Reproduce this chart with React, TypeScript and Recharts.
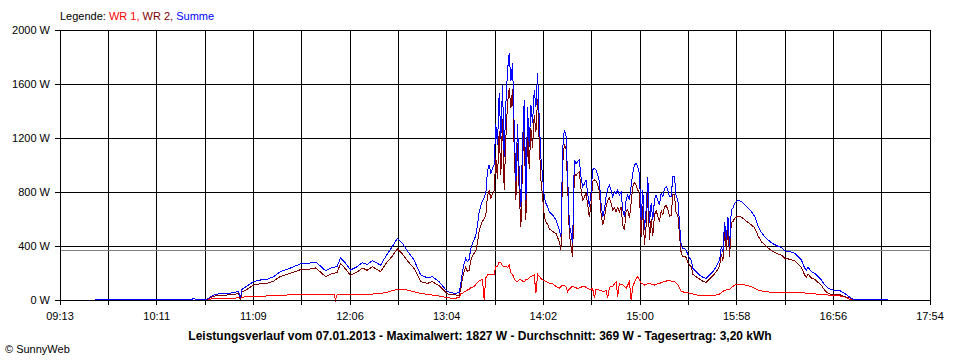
import { CartesianGrid, Line, LineChart, ReferenceLine, XAxis, YAxis } from "recharts";

// Leistungsverlauf 07.01.2013, Werte in W
const times = [
	"09:34", "09:53", "10:13", "10:32", "10:33", "10:34", "10:41", "10:45", "10:47", "10:53",
	"10:57", "10:59", "11:00", "11:01", "11:02", "11:05", "11:09", "11:13", "11:17", "11:21",
	"11:25", "11:29", "11:33", "11:37", "11:42", "11:46", "11:49", "11:52", "11:56", "11:57",
	"11:58", "11:59", "12:01", "12:04", "12:07", "12:11", "12:14", "12:17", "12:20", "12:25",
	"12:28", "12:32", "12:35", "12:38", "12:41", "12:45", "12:49", "12:53", "12:56", "13:00",
	"13:05", "13:09", "13:12", "13:13", "13:14", "13:15", "13:16", "13:17", "13:18", "13:19",
	"13:20", "13:21", "13:22", "13:23", "13:24", "13:25", "13:26", "13:27", "13:28", "13:29",
	"13:30", "13:31", "13:32", "13:33", "13:34", "13:35", "13:36", "13:37", "13:38", "13:39",
	"13:40", "13:41", "13:42", "13:43", "13:44", "13:45", "13:46", "13:47", "13:48", "13:49",
	"13:50", "13:51", "13:52", "13:53", "13:54", "13:55", "13:56", "13:57", "13:58", "13:59",
	"14:00", "14:01", "14:02", "14:03", "14:04", "14:05", "14:06", "14:07", "14:08", "14:09",
	"14:10", "14:11", "14:12", "14:13", "14:14", "14:15", "14:16", "14:17", "14:18", "14:19",
	"14:20", "14:21", "14:22", "14:23", "14:24", "14:25", "14:26", "14:27", "14:28", "14:29",
	"14:30", "14:31", "14:32", "14:33", "14:34", "14:35", "14:36", "14:37", "14:38", "14:39",
	"14:40", "14:41", "14:42", "14:43", "14:44", "14:45", "14:46", "14:47", "14:48", "14:49",
	"14:50", "14:51", "14:52", "14:53", "14:54", "14:55", "14:56", "14:57", "14:58", "14:59",
	"15:00", "15:01", "15:02", "15:03", "15:04", "15:05", "15:06", "15:07", "15:08", "15:09",
	"15:10", "15:11", "15:12", "15:13", "15:14", "15:15", "15:16", "15:17", "15:18", "15:19",
	"15:20", "15:21", "15:22", "15:23", "15:24", "15:25", "15:26", "15:27", "15:28", "15:29",
	"15:30", "15:31", "15:32", "15:34", "15:36", "15:38", "15:40", "15:42", "15:44", "15:46",
	"15:48", "15:49", "15:50", "15:51", "15:52", "15:53", "15:54", "15:55", "15:56", "15:57",
	"15:59", "16:01", "16:03", "16:05", "16:07", "16:09", "16:11", "16:13", "16:15", "16:17",
	"16:19", "16:21", "16:23", "16:25", "16:27", "16:30", "16:33", "16:35", "16:37", "16:39",
	"16:40", "16:41", "16:43", "16:45", "16:47", "16:49", "16:51", "16:53", "16:56", "17:00",
	"17:03", "17:06", "17:08", "17:29",
];

const wr1 = [
	0, 0, 0, 0, 0, 0, 2, 10, 12, 12,
	14, 15, 15, 10, 20, 25, 25, 27, 30, 32,
	35, 37, 40, 42, 44, 44, 44, 44, 44, 44,
	0, 44, 42, 42, 40, 40, 40, 42, 44, 49,
	54, 69, 79, 79, 74, 62, 49, 42, 37, 30,
	17, 10, 20, 45, 50, 60, 65, 74, 80, 90,
	95, 99, 115, 131, 140, 148, 150, 0, 165, 185,
	190, 185, 188, 190, 250, 250, 280, 275, 255, 245,
	250, 240, 259, 200, 190, 160, 140, 136, 150, 150,
	140, 136, 150, 153, 165, 173, 180, 185, 49, 190,
	175, 160, 150, 145, 136, 130, 125, 123, 123, 110,
	100, 95, 86, 100, 111, 111, 95, 62, 80, 95,
	99, 95, 90, 86, 90, 95, 99, 99, 95, 85,
	79, 80, 85, 12, 80, 76, 74, 70, 62, 62,
	75, 12, 95, 99, 99, 120, 136, 25, 123, 115,
	111, 100, 86, 110, 136, 0, 99, 130, 160, 173,
	150, 123, 120, 111, 115, 120, 123, 118, 115, 111,
	115, 120, 123, 128, 132, 136, 140, 143, 143, 140,
	136, 136, 125, 111, 90, 62, 60, 58, 57, 55,
	50, 48, 44, 38, 30, 30, 30, 30, 30, 38,
	44, 55, 65, 70, 74, 76, 79, 90, 100, 110,
	119, 115, 111, 105, 99, 85, 74, 68, 62, 60,
	58, 57, 57, 57, 56, 56, 55, 54, 54, 52,
	50, 50, 47, 45, 43, 41, 39, 37, 37, 30,
	25, 5, 0, 0,
];

const wr2 = [
	5, 5, 5, 5, 12, 5, 5, 27, 32, 37,
	40, 47, 47, 2, 59, 79, 111, 121, 123, 141,
	175, 190, 207, 225, 228, 237, 208, 173, 198, 199,
	200, 205, 271, 230, 182, 207, 237, 220, 247, 210,
	267, 326, 378, 341, 291, 234, 136, 123, 136, 106,
	45, 39, 34, 75, 160, 210, 244, 210, 220, 293,
	325, 345, 365, 425, 510, 552, 585, 600, 625, 775,
	810, 755, 787, 810, 1050, 900, 1251, 925, 1338, 817,
	1200, 1460, 1568, 1420, 1563, 1124, 740, 1164, 800, 541,
	1010, 1345, 591, 1279, 971, 1271, 1129, 1371, 1245, 1489,
	1158, 890, 764, 620, 580, 561, 529, 517, 507, 500,
	493, 461, 434, 370, 1000, 1148, 1127, 852, 488, 399,
	321, 942, 922, 939, 947, 819, 740, 761, 794, 705,
	612, 710, 878, 889, 883, 854, 803, 646, 555, 605,
	690, 737, 757, 716, 666, 682, 654, 685, 655, 687,
	556, 517, 655, 668, 605, 720, 839, 870, 852, 815,
	788, 470, 695, 407, 552, 793, 445, 598, 478, 630,
	663, 620, 581, 662, 633, 691, 700, 672, 622, 625,
	778, 778, 640, 630, 478, 345, 323, 325, 313, 278,
	260, 248, 191, 172, 155, 138, 130, 155, 180, 209,
	252, 340, 293, 510, 370, 541, 316, 577, 579, 606,
	622, 615, 594, 575, 556, 535, 476, 432, 408, 385,
	367, 353, 341, 333, 309, 302, 291, 267, 242, 183,
	172, 192, 163, 153, 130, 107, 72, 49, 37, 39,
	24, 15, 5, 5,
];

const summe = [
	5, 5, 5, 5, 12, 5, 7, 37, 44, 49,
	54, 62, 62, 12, 79, 104, 136, 148, 153, 173,
	210, 227, 247, 267, 272, 281, 252, 217, 242, 243,
	245, 249, 313, 272, 222, 247, 277, 262, 291, 259,
	321, 395, 457, 420, 365, 296, 185, 165, 173, 136,
	62, 49, 54, 120, 210, 270, 309, 284, 300, 383,
	420, 444, 480, 556, 650, 700, 735, 760, 790, 960,
	1000, 940, 975, 1000, 1300, 1150, 1531, 1200, 1593, 1062,
	1450, 1700, 1827, 1620, 1753, 1284, 880, 1300, 950, 691,
	1150, 1481, 741, 1432, 1136, 1444, 1309, 1556, 1432, 1679,
	1333, 1050, 914, 765, 716, 691, 654, 640, 630, 610,
	593, 556, 520, 470, 1111, 1259, 1222, 914, 568, 494,
	420, 1037, 1012, 1025, 1037, 914, 839, 860, 889, 790,
	691, 790, 963, 975, 963, 930, 877, 716, 617, 667,
	765, 827, 852, 815, 765, 802, 790, 815, 778, 802,
	667, 617, 741, 778, 741, 840, 938, 1000, 1012, 988,
	938, 593, 815, 518, 667, 913, 568, 716, 593, 741,
	778, 740, 704, 790, 765, 827, 840, 815, 765, 765,
	914, 914, 765, 741, 568, 407, 383, 383, 370, 333,
	310, 296, 235, 210, 185, 168, 160, 185, 210, 247,
	296, 395, 358, 580, 444, 617, 395, 667, 679, 716,
	741, 730, 705, 680, 655, 620, 550, 500, 470, 445,
	425, 410, 398, 390, 365, 358, 346, 321, 296, 235,
	222, 242, 210, 198, 173, 148, 111, 86, 74, 69,
	49, 20, 5, 5,
];

const tickLabels = ["09:13", "10:11", "11:09", "12:06", "13:04", "14:02", "15:00", "15:58", "16:56", "17:54"];
const yTicks = [0, 400, 800, 1200, 1600, 2000];
const durchschnitt = 369;

const toMin = (s: string) => {
	const [h, m] = s.split(":").map(Number);
	return h * 60 + m;
};

const data = times.map((t, i) => ({ t: toMin(t), wr1: wr1[i], wr2: wr2[i], summe: summe[i] }));

// 18 Rasterlinien, Beschriftung an jeder zweiten
const start = toMin(tickLabels[0]);
const end = toMin(tickLabels[tickLabels.length - 1]);
const step = (end - start) / 18;
const xTicks = Array.from({ length: 19 }, (_, k) => start + step * k);

const font = "'Liberation Sans', Arial, sans-serif";

export default function App() {
	return (
		<div style={{ position: "relative", width: 960, height: 360, background: "#fff", fontFamily: font, color: "#000" }}>
			<style>{`body{margin:0} .crisp line, .crisp path { shape-rendering: crispEdges; }`}</style>
			<div style={{ position: "absolute", left: 60, top: 10, fontSize: 11, whiteSpace: "nowrap" }}>
				Legende: <span style={{ color: "#ff0000" }}>WR 1,</span> <span style={{ color: "#800000" }}>WR 2,</span>{" "}
				<span style={{ color: "#0000ff" }}>Summe</span>
			</div>
			<LineChart className="crisp" width={960} height={360} data={data} margin={{ top: 30, right: 30, bottom: 30, left: 0 }}>
				<CartesianGrid stroke="#000" />
				<XAxis
					dataKey="t"
					type="number"
					domain={[start, end]}
					ticks={xTicks}
					interval={0}
					height={30}
					tickSize={5}
					tickMargin={7}
					tick={{ fill: "#000", fontSize: 11, fontFamily: font }}
					tickLine={{ stroke: "#000" }}
					axisLine={{ stroke: "#000" }}
					tickFormatter={(v: number) => {
						const k = Math.round((v - start) / step);
						return k % 2 === 0 ? tickLabels[k / 2] : "";
					}}
				/>
				<YAxis
					type="number"
					domain={[0, 2000]}
					ticks={yTicks}
					interval={0}
					width={60}
					tickSize={5}
					tickMargin={5}
					tick={{ fill: "#000", fontSize: 11, fontFamily: font }}
					tickLine={{ stroke: "#000" }}
					axisLine={{ stroke: "#000" }}
					tickFormatter={(v: number) => `${v} W`}
				/>
				<ReferenceLine y={durchschnitt} stroke="#808080" />
				<Line type="linear" dataKey="wr1" stroke="#ff0000" strokeWidth={1} dot={false} isAnimationActive={false} />
				<Line type="linear" dataKey="wr2" stroke="#800000" strokeWidth={1} dot={false} isAnimationActive={false} />
				<Line type="linear" dataKey="summe" stroke="#0000ff" strokeWidth={1} dot={false} isAnimationActive={false} />
			</LineChart>
			<div style={{ position: "absolute", left: 0, top: 329, width: 960, textAlign: "center", fontSize: 12, fontWeight: "bold", whiteSpace: "nowrap" }}>
				Leistungsverlauf vom 07.01.2013 - Maximalwert: 1827 W - Durchschnitt: 369 W - Tagesertrag: 3,20 kWh
			</div>
			<div style={{ position: "absolute", left: 5, top: 343, fontSize: 11, whiteSpace: "nowrap" }}>© SunnyWeb</div>
		</div>
	);
}
